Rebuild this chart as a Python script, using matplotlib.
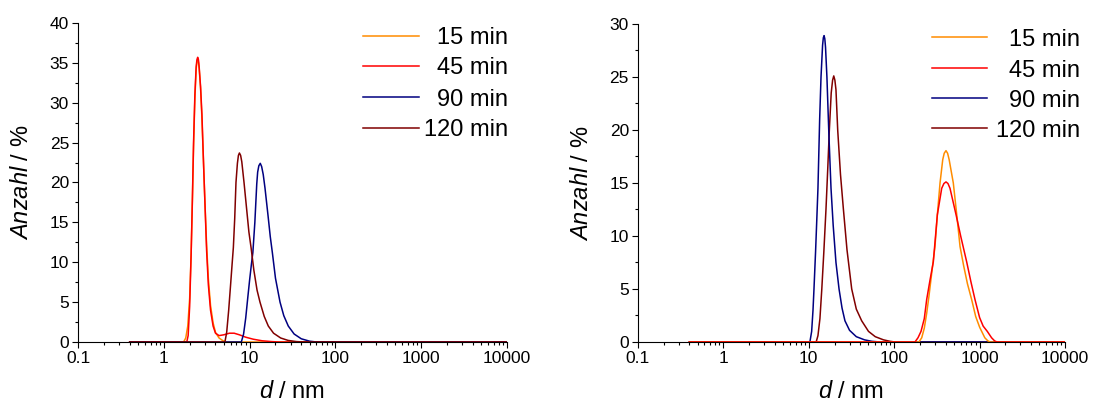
import matplotlib
matplotlib.use("Agg")
import matplotlib.pyplot as plt
from matplotlib.ticker import FixedLocator, FuncFormatter, MultipleLocator, LogLocator, NullFormatter

plt.rcParams['font.family'] = ['Liberation Sans', 'DejaVu Sans']
plt.rcParams['mathtext.fontset'] = 'custom'
plt.rcParams['mathtext.it'] = 'Liberation Sans:italic'
plt.rcParams['mathtext.rm'] = 'Liberation Sans'

labels = ["15 min", "45 min", "90 min", "120 min"]
colors = ["#FF8C00", "#FF0000", "#000080", "#800000"]

# ---- left panel data (d in nm, number %) ----
L15_d = [0.4, 1.7, 1.8, 1.9, 2.0, 2.08, 2.15, 2.22, 2.3, 2.38, 2.43, 2.48, 2.53, 2.58, 2.68, 2.78,
         2.9, 3.0, 3.15, 3.3, 3.5, 3.75, 4.0, 4.4, 4.9, 5.4, 10000]
L15_y = [0, 0, 0.5, 2.0, 5.5, 11.0, 17.5, 24.5, 30.5, 34.2, 35.1, 35.4, 35.1, 34.3, 31.8, 28.0,
         22.5, 18.0, 12.2, 8.0, 4.6, 2.4, 1.2, 0.5, 0.15, 0, 0]
L45_d = [0.4, 1.85, 1.92, 2.0, 2.08, 2.15, 2.22, 2.3, 2.38, 2.43, 2.48, 2.53, 2.58, 2.68, 2.78,
         2.9, 3.0, 3.15, 3.3, 3.5, 3.75, 4.0, 4.4, 5.0, 5.8, 6.6, 7.6, 9.0, 11.0, 14.0, 18.0,
         22.0, 10000]
L45_y = [0, 0, 0.8, 4.5, 11.0, 17.8, 25.0, 31.0, 34.5, 35.4, 35.7, 35.4, 34.5, 32.0, 28.5,
         22.5, 18.0, 11.5, 7.2, 4.0, 2.0, 1.1, 0.8, 0.9, 1.1, 1.1, 0.9, 0.6, 0.35, 0.15, 0.05,
         0, 0]
L90_d = [0.4, 8.0, 8.5, 9.0, 9.5, 10.0, 10.5, 10.9, 11.5, 12.1, 12.4, 12.8, 13.3, 13.8, 14.4,
         15.1, 16.4, 17.4, 18.4, 20.0, 22.6, 25.0, 28.2, 33.0, 40.0, 50.0, 60.0, 10000]
L90_y = [0, 0, 1.0, 3.0, 5.5, 7.8, 9.8, 11.2, 15.0, 19.8, 21.3, 22.1, 22.4, 22.0, 21.0,
         19.3, 15.8, 13.2, 11.2, 8.0, 5.0, 3.3, 2.0, 1.0, 0.4, 0.1, 0, 0]
L120_d = [0.4, 5.15, 5.4, 5.7, 6.0, 6.25, 6.46, 6.7, 6.93, 7.2, 7.4, 7.6, 7.85, 8.1, 8.6, 9.2,
          9.8, 10.4, 11.2, 12.2, 13.2, 14.8, 16.5, 19.0, 23.0, 28.0, 35.0, 42.0, 10000]
L120_y = [0, 0, 1.2, 4.0, 7.2, 9.8, 11.85, 15.5, 20.0, 22.4, 23.4, 23.7, 23.4, 22.6, 20.0, 16.8,
          13.8, 11.8, 9.0, 6.5, 5.0, 3.2, 2.0, 1.1, 0.5, 0.2, 0.05, 0, 0]

# ---- right panel data ----
R15_d = [0.4, 195, 210, 225, 240, 255, 275, 300, 320, 344, 370, 385, 404, 422, 440, 492, 540,
         590, 650, 720, 807, 900, 1000, 1057, 1150, 1250, 1330, 10000]
R15_y = [0, 0, 0.4, 1.3, 2.7, 4.3, 6.5, 9.0, 12.0, 15.0, 17.2, 17.8, 18.05, 17.8, 17.2, 15.0,
         12.0, 9.0, 7.2, 5.5, 4.0, 2.4, 1.4, 1.0, 0.4, 0.1, 0, 0]
R45_d = [0.4, 175, 190, 206, 225, 240, 262, 287, 320, 360, 382, 404, 426, 450, 490, 530, 600,
         706, 790, 883, 1000, 1100, 1230, 1380, 1500, 1600, 10000]
R45_y = [0, 0, 0.4, 1.0, 2.2, 4.0, 5.8, 7.55, 12.0, 14.5, 14.95, 15.1, 14.95, 14.5, 13.2, 12.0,
         10.0, 7.55, 5.7, 4.0, 2.3, 1.5, 1.0, 0.4, 0.1, 0, 0]
R90_d = [0.4, 10.3, 10.8, 11.2, 11.5, 12.0, 12.4, 12.8, 13.4, 13.9, 14.5, 14.8, 15.1, 15.4, 15.7,
         16.3, 17.2, 18.2, 19.3, 20.8, 22.6, 24.5, 26.5, 30.0, 36.0, 45.0, 55.0, 68.0, 10000]
R90_y = [0, 0, 1.0, 3.0, 5.0, 8.5, 11.5, 14.5, 21.0, 25.0, 28.0, 28.7, 28.9, 28.6, 27.8,
         25.0, 19.5, 14.5, 11.0, 7.5, 5.0, 3.2, 2.0, 1.1, 0.5, 0.2, 0.06, 0, 0]
R120_d = [0.4, 12.2, 12.8, 13.5, 14.2, 15.0, 15.9, 16.7, 17.4, 18.3, 19.0, 19.6, 20.2, 20.8, 21.8,
          23.5, 25.4, 28.0, 31.8, 36.0, 41.6, 50.0, 60.0, 75.0, 90.0, 102.0, 10000]
R120_y = [0, 0, 0.6, 2.2, 5.0, 8.5, 12.55, 16.5, 20.0, 23.5, 24.7, 25.1, 24.7, 23.8, 20.0,
          15.8, 12.55, 8.7, 5.0, 3.1, 2.0, 1.0, 0.5, 0.2, 0.06, 0, 0]

xticks = [0.1, 1, 10, 100, 1000, 10000]

fig = plt.figure(figsize=(10.93, 4.05), dpi=100)
axL = fig.add_axes([0.0714, 0.1556, 0.3925, 0.7876])
axR = fig.add_axes([0.5837, 0.1556, 0.3907, 0.7852])

left_series = [(L15_d, L15_y), (L45_d, L45_y), (L90_d, L90_y), (L120_d, L120_y)]
right_series = [(R15_d, R15_y), (R45_d, R45_y), (R90_d, R90_y), (R120_d, R120_y)]

for (d, y), c in zip(left_series, colors):
    axL.plot(d, y, color=c, lw=1.1, solid_joinstyle='round')
for i in [3, 2, 0, 1]:
    d, y = right_series[i]
    axR.plot(d, y, color=colors[i], lw=1.1, solid_joinstyle='round')

def style(ax, ymax, leg_x0, leg_x1, leg_tx, leg_ys):
    ax.set_xscale('log')
    ax.set_xlim(0.1, 10000)
    ax.set_ylim(0, ymax)
    ax.spines['top'].set_visible(False)
    ax.spines['right'].set_visible(False)
    ax.xaxis.set_major_locator(FixedLocator(xticks))
    ax.xaxis.set_major_formatter(FuncFormatter(lambda v, p: '%g' % v))
    ax.xaxis.set_minor_locator(LogLocator(base=10, subs=[2, 3, 4, 5, 6, 7, 8, 9], numticks=100))
    ax.xaxis.set_minor_formatter(NullFormatter())
    ax.yaxis.set_major_locator(MultipleLocator(5))
    ax.yaxis.set_minor_locator(MultipleLocator(2.5))
    ax.tick_params(which='major', direction='out', length=4.5, width=0.8, labelsize=12.5, pad=2)
    ax.tick_params(which='minor', direction='out', length=2.5, width=0.8)
    ax.set_xlabel(r'$\mathit{d}$ / nm', fontsize=17, labelpad=11)
    ax.set_ylabel(r'$\mathit{Anzahl}$ / %', fontsize=17, labelpad=12)
    for lab, c, yy in zip(labels, colors, leg_ys):
        ax.plot([leg_x0, leg_x1], [yy, yy], color=c, lw=1.1, transform=ax.transAxes,
                clip_on=False)
        ax.text(leg_tx, yy, lab, transform=ax.transAxes, ha='right', va='center_baseline',
                fontsize=17)

style(axL, 40, 0.664, 0.795, 1.002, [0.960, 0.866, 0.767, 0.672])
style(axR, 30, 0.688, 0.817, 1.035, [0.958, 0.861, 0.766, 0.672])

fig.savefig('out.png', dpi=100)
